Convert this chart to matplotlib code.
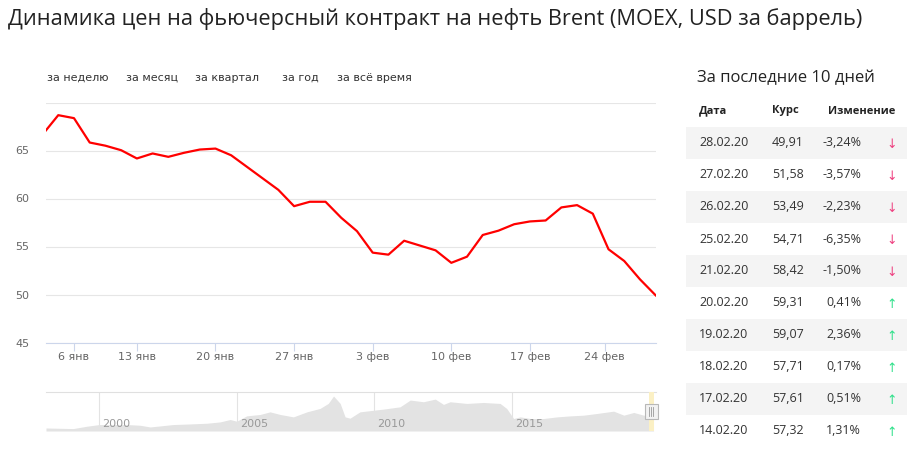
import numpy as np
import matplotlib
matplotlib.use("Agg")
import matplotlib.pyplot as plt
from matplotlib.patches import Rectangle
from matplotlib.transforms import offset_copy

W, H = 921, 458

# main chart: MOEX trading days only (ordinal x axis)
dates = [
    "2019-12-31", "2020-01-03", "2020-01-06", "2020-01-08", "2020-01-09", "2020-01-10",
    "2020-01-13", "2020-01-14", "2020-01-15", "2020-01-16", "2020-01-17",
    "2020-01-20", "2020-01-21", "2020-01-22", "2020-01-23", "2020-01-24",
    "2020-01-27", "2020-01-28", "2020-01-29", "2020-01-30", "2020-01-31",
    "2020-02-03", "2020-02-04", "2020-02-05", "2020-02-06", "2020-02-07",
    "2020-02-10", "2020-02-11", "2020-02-12", "2020-02-13", "2020-02-14",
    "2020-02-17", "2020-02-18", "2020-02-19", "2020-02-20", "2020-02-21",
    "2020-02-25", "2020-02-26", "2020-02-27", "2020-02-28",
]
prices = [
    66.66, 68.68, 68.37, 65.83, 65.50, 65.03,
    64.17, 64.69, 64.34, 64.76, 65.10,
    65.20, 64.50, 63.30, 62.10, 60.90,
    59.20, 59.66, 59.66, 57.99, 56.60,
    54.36, 54.15, 55.60, 55.10, 54.60,
    53.30, 53.94, 56.20, 56.65, 57.32,
    57.61, 57.71, 59.07, 59.31, 58.42,
    54.71, 53.49, 51.58, 49.91,
]
tick_dates = ["2020-01-06", "2020-01-13", "2020-01-20", "2020-01-27",
              "2020-02-03", "2020-02-10", "2020-02-17", "2020-02-24"]
tick_labels = ["6 янв", "13 янв", "20 янв", "27 янв",
               "3 фев", "10 фев", "17 фев", "24 фев"]
y_ticks = [45, 50, 55, 60, 65, 70]
y_tick_labels = ["45", "50", "55", "60", "65", ""]

range_buttons = ["за неделю", "за месяц", "за квартал", "за год", "за всё время"]
button_x = [47, 126, 195, 282, 337]

# navigator (whole history, decimal years)
nav_years = [1998.06, 1999.05, 1999.54, 2000.00, 2001.00, 2001.48, 2001.85, 2002.69,
             2003.30, 2003.91, 2004.39, 2004.76, 2005.00, 2005.36, 2005.85, 2006.21,
             2006.58, 2007.06, 2007.55, 2008.03, 2008.33, 2008.52, 2008.76, 2008.94,
             2009.12, 2009.48, 2010.01, 2010.33, 2010.94, 2011.31, 2011.79, 2012.22,
             2012.52, 2012.76, 2013.37, 2013.97, 2014.58, 2014.82, 2015.07, 2015.31,
             2015.68, 2016.16, 2016.65, 2017.14, 2017.62, 2018.11, 2018.71, 2019.08,
             2019.44, 2019.80, 2020.16]
nav_values = [12.5, 10.0, 19.6, 26.7, 26.7, 23.8, 16.7, 26.7,
              29.2, 32.1, 37.5, 47.5, 40.4, 62.6, 68.4, 79.2,
              68.4, 58.4, 79.2, 93.4, 114.3, 144.7, 114.3, 58.4,
              53.0, 79.2, 86.3, 90.5, 100.0, 128.0, 121.0, 132.0,
              110.0, 121.0, 114.0, 118.0, 114.0, 93.0, 51.7, 58.4,
              51.7, 51.7, 58.4, 62.6, 65.5, 72.6, 82.1, 65.5,
              76.7, 65.5, 65.5]
nav_grid_years = [2000, 2005, 2010, 2015]

# table: last 10 days
table_dates = ["28.02.20", "27.02.20", "26.02.20", "25.02.20", "21.02.20",
               "20.02.20", "19.02.20", "18.02.20", "17.02.20", "14.02.20"]
table_rates = [49.91, 51.58, 53.49, 54.71, 58.42, 59.31, 59.07, 57.71, 57.61, 57.32]
table_changes = [-3.24, -3.57, -2.23, -6.35, -1.50, 0.41, 2.36, 0.17, 0.51, 1.31]


def fx(x):
    return x / W


def fy(y):
    return 1 - y / H


def ru(v, fmt="{:.2f}"):
    return fmt.format(v).replace(".", ",")


fig = plt.figure(figsize=(W / 100, H / 100), dpi=100)
fig.patch.set_facecolor("white")

fig.text(fx(8), fy(19), "Динамика цен на фьючерсный контракт на нефть Brent (MOEX, USD за баррель)",
         family="Open Sans", fontsize=15.7, color="#222222", va="center", ha="left")

for label, x in zip(range_buttons, button_x):
    fig.text(fx(x), fy(78), label, family="DejaVu Sans", fontsize=8, color="#333333",
             va="center", ha="left")

# main chart
ax = fig.add_axes([fx(46), fy(342.5), fx(610), 240 / H])
days = np.array(dates, dtype="datetime64[D]").astype(int)
idx = np.arange(len(dates))
ax.plot(idx, prices, color="#ff0000", lw=1.6, solid_joinstyle="round", zorder=3)
ax.set_xlim(0.22, 39.02)
ax.set_ylim(45, 70)

tick_days = np.array(tick_dates, dtype="datetime64[D]").astype(int)
ax.set_xticks(np.interp(tick_days, days, idx))
ax.set_xticklabels(tick_labels)
ax.set_yticks(y_ticks)
ax.set_yticklabels(y_tick_labels)
ax.grid(axis="y", color="#e6e6e6", lw=0.8)
ax.set_axisbelow(True)
for side in ["top", "right", "left"]:
    ax.spines[side].set_visible(False)
ax.spines["bottom"].set_color("#ccd6eb")
ax.spines["bottom"].set_linewidth(0.8)
ax.tick_params(axis="x", length=6, width=0.8, color="#ccd6eb", labelcolor="#666666",
               labelsize=8, pad=1)
ax.tick_params(axis="y", length=0, labelcolor="#666666", labelsize=8, pad=12)

# navigator
nav = fig.add_axes([fx(46), fy(431), fx(610), 39.3 / H])
nav.fill_between(nav_years, nav_values, 0, color="#e3e3e3", lw=0, zorder=2)
nav.set_xlim(1998.06, 2020.25)
nav.set_ylim(0, 162.6)
for yr in nav_grid_years:
    nav.axvline(yr, color="#e3e3e3", lw=0.8, zorder=1)
    nav.text(yr, 0.18, str(yr), transform=offset_copy(nav.get_xaxis_transform(), fig=fig, x=3, units="dots"),
             family="DejaVu Sans", fontsize=8, color="#999999", va="center", ha="left", zorder=3)
nav.set_xticks([])
nav.set_yticks([])
for side in ["bottom", "right", "left"]:
    nav.spines[side].set_visible(False)
nav.spines["top"].set_color("#e0e0e0")
nav.spines["top"].set_linewidth(0.8)

# selected range highlight and handle
sel_start = 2019 + 364 / 365
sel_end = nav_years[-1]
nav.axvspan(sel_start, sel_end, color="#fbf0c4", lw=0, zorder=4)
hx = nav.transData.transform((sel_start, 0))[0] + 2
fig.add_artist(Rectangle((fx(hx - 6.5), fy(419)), fx(13), 15 / H, transform=fig.transFigure,
                         facecolor="#f2f2f2", edgecolor="#b8b8b8", lw=0.8, zorder=5))
for dx in [-2, 0, 2]:
    fig.add_artist(plt.Line2D([fx(hx + dx), fx(hx + dx)], [fy(407), fy(416)], transform=fig.transFigure,
                              color="#999999", lw=0.6, zorder=6))

# table
fig.text(fx(697), fy(78), "За последние 10 дней", family="Open Sans", fontsize=12,
         color="#222222", va="center", ha="left")
fig.text(fx(699), fy(111), "Дата", family="Open Sans", fontsize=8, weight="bold",
         color="#222222", va="center", ha="left")
fig.text(fx(772), fy(111), "Курс", family="Open Sans", fontsize=8, weight="bold",
         color="#222222", va="center", ha="left")
fig.text(fx(895), fy(111), "Изменение", family="Open Sans", fontsize=8, weight="bold",
         color="#222222", va="center", ha="right")

row_top, row_h = 127, 32
for i, (d, r, c) in enumerate(zip(table_dates, table_rates, table_changes)):
    top = row_top + i * row_h
    yc = top + row_h / 2
    if i % 2 == 0:
        fig.add_artist(Rectangle((fx(686), fy(top + row_h)), fx(221), row_h / H,
                                 transform=fig.transFigure, facecolor="#f4f4f4",
                                 edgecolor="none", zorder=0))
    fig.text(fx(699), fy(yc), d, family="Open Sans", fontsize=9, color="#333333",
             va="center", ha="left")
    fig.text(fx(772), fy(yc), ru(r), family="Open Sans", fontsize=9, color="#333333",
             va="center", ha="left")
    fig.text(fx(861), fy(yc), ru(c) + "%", family="Open Sans", fontsize=9, color="#333333",
             va="center", ha="right")
    arrow, col = ("↓", "#ee4080") if c < 0 else ("↑", "#2fe08a")
    fig.text(fx(892), fy(yc + 2), arrow, family="DejaVu Sans", fontsize=9, color=col,
             va="center", ha="center")

fig.savefig("out.png", dpi=100, facecolor="white")
